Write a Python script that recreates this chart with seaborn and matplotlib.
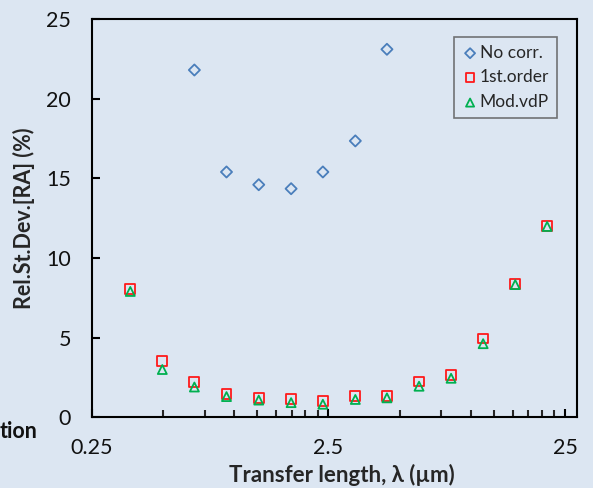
import numpy as np
import pandas as pd
import matplotlib
matplotlib.use("Agg")
import matplotlib.pyplot as plt
import matplotlib.ticker as ticker
import seaborn as sns

# transfer length values (um)
lam_nocorr = [0.679, 0.928, 1.27, 1.74, 2.37, 3.25, 4.42]
rsd_nocorr = [21.8, 15.4, 14.6, 14.35, 15.4, 17.35, 23.1]

lam_all = [0.364, 0.497, 0.679, 0.928, 1.27, 1.74, 2.37, 3.25, 4.42,
           6.04, 8.25, 11.27, 15.4, 21.0]
rsd_first = [8.05, 3.55, 2.2, 1.45, 1.22, 1.15, 1.02, 1.35, 1.35,
             2.25, 2.68, 4.95, 8.38, 12.02]
rsd_modvdp = [7.9, 3.0, 1.9, 1.3, 1.08, 0.92, 0.82, 1.12, 1.22,
              1.95, 2.45, 4.62, 8.33, 11.98]

series_names = ["No corr.", "1st.order", "Mod.vdP"]
series_markers = ["D", "s", "^"]
series_colors = ["#4a7ebb", "#ff1a1a", "#00b050"]

df = pd.concat([
    pd.DataFrame({"lam": lam_nocorr, "rsd": rsd_nocorr, "series": series_names[0]}),
    pd.DataFrame({"lam": lam_all, "rsd": rsd_first, "series": series_names[1]}),
    pd.DataFrame({"lam": lam_all, "rsd": rsd_modvdp, "series": series_names[2]}),
])

bg = "#dce6f2"
sns.set_theme(style="ticks")
plt.rcParams["font.family"] = ["Lato", "DejaVu Sans"]

fig = plt.figure(figsize=(5.93, 4.88), dpi=100, facecolor=bg)
ax = fig.add_axes([0.1546, 0.1449, 0.8179, 0.8161])
ax.set_facecolor(bg)

sizes = [32, 50, 42]
for name, mk, col, s in zip(series_names, series_markers, series_colors, sizes):
    sub = df[df["series"] == name]
    sns.scatterplot(data=sub, x="lam", y="rsd", marker=mk, s=s,
                    facecolor="none", edgecolor=col, linewidth=1.3,
                    label=name, ax=ax)

ax.set_xscale("log")
ax.set_xlim(0.25, 28)
ax.set_ylim(0, 25)

ax.xaxis.set_major_locator(ticker.FixedLocator([0.25, 2.5, 25]))
ax.xaxis.set_major_formatter(ticker.FixedFormatter(["0.25", "2.5", "25"]))
minor = [0.25 * k * 10 ** d for d in range(3) for k in range(2, 10)]
ax.xaxis.set_minor_locator(ticker.FixedLocator(minor))
ax.xaxis.set_minor_formatter(ticker.NullFormatter())
ax.yaxis.set_major_locator(ticker.MultipleLocator(5))

ax.tick_params(axis="both", which="major", direction="in", length=6,
               width=1.5, color="black", labelsize=15.5, labelcolor="#111111")
ax.tick_params(axis="x", which="major", pad=15)
ax.tick_params(axis="y", which="major", pad=15)
ax.tick_params(axis="x", which="minor", direction="in", length=5, width=1.5)

for sp in ax.spines.values():
    sp.set_linewidth(1.5)
    sp.set_color("black")

ax.set_xlabel("Transfer length, λ (µm)", fontsize=16, fontweight="bold")
ax.xaxis.set_label_coords(0.516, -0.118)
ax.set_ylabel("Rel.St.Dev.[RA] (%)", fontsize=15.5, fontweight="bold", labelpad=8)

leg = ax.legend(loc="upper right", bbox_to_anchor=(0.959, 0.955), borderaxespad=0,
                fontsize=12.5, frameon=True, fancybox=False, facecolor=bg,
                edgecolor="#555555", handletextpad=0.05, borderpad=0.45,
                labelspacing=0.5, handlelength=1.0, markerscale=0.9)
leg.get_frame().set_linewidth(1.2)

# clipped text from neighbouring slide
fig.text(0.0, 0.115, "tion", ha="left", va="center",
         fontsize=15.5, fontweight="bold", color="#111111")

fig.savefig("out.png", dpi=100, facecolor=bg)
